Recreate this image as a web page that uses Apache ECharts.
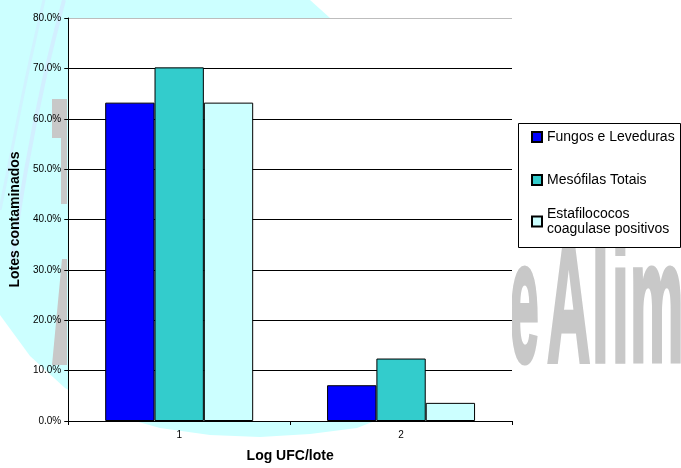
<!DOCTYPE html>
<html>
<head>
<meta charset="utf-8">
<script src="https://cdn.jsdelivr.net/npm/echarts@6/dist/echarts.min.js"></script>
<style>
  html, body { margin: 0; padding: 0; background: #fff; }
  #grafico { width: 681px; height: 468px; }
</style>
</head>
<body>
<div id="grafico"></div>
<script>
var categorias = ['1', '2'];
var fungos = [63.2, 7.1];
var mesofilas = [70.2, 12.4];
var estafilococos = [63.2, 3.6];
var nomes = ['Fungos e Leveduras', 'Mesófilas Totais', 'Estafilococos\ncoagulase positivos'];
var cores = ['#0000ff', '#33cccc', '#ccffff'];

var fonte = '"Liberation Sans", Arial, sans-serif';
var grafico = echarts.init(document.getElementById('grafico'));

// linhas de grade: a de cima (80%) e cinza
var corGrade = ['#000', '#000', '#000', '#000', '#000', '#000', '#000', '#000', '#bdbdbd'];

function serie(nome, dados, cor) {
  return {
    name: nome,
    type: 'bar',
    data: dados,
    barGap: '0%',
    barCategoryGap: '33.3%',
    itemStyle: { color: cor, borderColor: '#000', borderWidth: 1 }
  };
}

var legendaBase = {
  orient: 'vertical',
  left: 531,
  padding: 0,
  itemGap: 0,
  itemWidth: 10,
  itemHeight: 10,
  icon: 'rect',
  selectedMode: false,
  textStyle: { fontFamily: fonte, fontSize: 14, color: '#000', lineHeight: 15 }
};

// marca d'agua do fundo (decoracao)
function letra(t, x, sx) {
  return {
    type: 'text', x: x, y: 314, scaleX: sx || 0.35, z: -1, silent: true,
    style: {
      text: t, font: 'bold 172px "Liberation Sans"', fill: '#c8c8c8',
      stroke: '#c8c8c8', lineWidth: 5, verticalAlign: 'middle'
    }
  };
}

var option = {
  backgroundColor: '#fff',
  animation: false,
  grid: {
    left: 67, right: 169, top: 18, bottom: 42,
    show: true, backgroundColor: '#fff', borderWidth: 0
  },
  graphic: [
    {
      type: 'polygon', z: -2, silent: true,
      shape: { points: [[0, 0], [310, 0], [330, 18], [420, 150], [430, 300], [390, 415], [357, 428],
        [310, 434], [260, 437], [210, 435], [160, 428], [110, 414], [65, 388], [30, 356], [0, 315]] },
      style: { fill: '#ccffff' }
    },
    {
      type: 'polyline', z: -2, silent: true,
      shape: { points: [[64, 0], [44, 80], [26, 170], [12, 260]], smooth: 0.4 },
      style: { stroke: 'rgba(212,232,255,0.7)', lineWidth: 4, fill: null }
    },
    {
      type: 'polyline', z: -2, silent: true,
      shape: { points: [[44, 0], [26, 80], [10, 160], [0, 210]], smooth: 0.4 },
      style: { stroke: 'rgba(212,232,255,0.5)', lineWidth: 3, fill: null }
    },
    {
      type: 'polygon', z: -1, silent: true,
      shape: { points: [[52, 99], [67, 99], [67, 204], [61, 204], [61, 138], [52, 138]] },
      style: { fill: '#c8c8c8' }
    },
    {
      type: 'polygon', z: -1, silent: true,
      shape: { points: [[62, 259], [67, 259], [67, 365], [52, 365]] },
      style: { fill: '#c8c8c8' }
    },
    letra('e', 510, 0.3), letra('A', 547), letra('l', 592), letra('i', 612), letra('m', 630),
    {
      type: 'rect', z: 1, silent: true,
      shape: { x: 518.5, y: 123.5, width: 162, height: 124 },
      style: { fill: '#fff', stroke: '#000', lineWidth: 1 }
    }
  ],
  legend: [
    Object.assign({}, legendaBase, { data: [nomes[0]], top: 129.5 }),
    Object.assign({}, legendaBase, { data: [nomes[1]], top: 172.5 }),
    Object.assign({}, legendaBase, {
      data: [nomes[2]], top: 199,
      textStyle: { fontFamily: fonte, fontSize: 14, color: '#000', lineHeight: 15, padding: [15, 0, 0, 0] }
    })
  ],
  xAxis: {
    type: 'category',
    data: categorias,
    name: 'Log UFC/lote',
    nameLocation: 'middle',
    nameGap: 28,
    nameTextStyle: { fontFamily: fonte, fontSize: 14, fontWeight: 'bold', color: '#000' },
    axisLine: { lineStyle: { color: '#000', width: 1 } },
    axisTick: { show: true, length: 4, lineStyle: { color: '#000' } },
    axisLabel: { fontFamily: fonte, fontSize: 10, color: '#000', margin: 9 }
  },
  yAxis: {
    type: 'value',
    min: 0,
    max: 80,
    interval: 10,
    name: 'Lotes contaminados',
    nameLocation: 'middle',
    nameGap: 40,
    nameTextStyle: { fontFamily: fonte, fontSize: 14, fontWeight: 'bold', color: '#000' },
    axisLine: { show: true, lineStyle: { color: '#000', width: 1 } },
    axisTick: { show: true, length: 4, lineStyle: { color: '#000' } },
    axisLabel: {
      fontFamily: fonte, fontSize: 10, color: '#000', margin: 7,
      formatter: function (v) { return v.toFixed(1) + '%'; }
    },
    splitLine: { show: true, lineStyle: { color: corGrade, width: 1 } }
  },
  series: [
    serie(nomes[0], fungos, cores[0]),
    serie(nomes[1], mesofilas, cores[1]),
    serie(nomes[2], estafilococos, cores[2])
  ]
};
grafico.setOption(option);
</script>
</body>
</html>
